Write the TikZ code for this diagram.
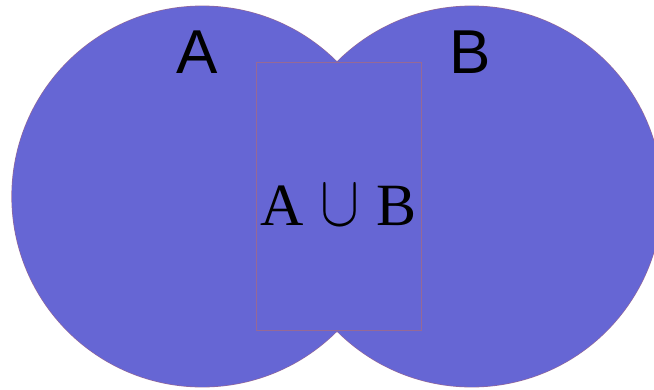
\documentclass[tikz,border=0pt]{standalone}
\usepackage{fontspec}
\usepackage{amsmath}
\usepackage{graphicx}
\usepackage{tikz}
\setmainfont{Liberation Serif}
\newfontfamily\labelfont{Liberation Sans}
\definecolor{setblue}{RGB}{102,102,212}
\definecolor{setedge}{RGB}{150,105,150}
\tikzset{node distance=2.0cm, auto}
\tikzset{
  setrim/.style={draw=setedge, line width=1.2pt},
  setname/.style={font=\labelfont\fontsize{62}{62}\selectfont, inner sep=0pt, anchor=base},
  unionbox/.style={draw=setedge, line width=0.8pt, minimum width=165pt, minimum height=268.5pt, inner sep=0pt},
  uniontext/.style={font=\fontsize{60}{60}\selectfont, inner sep=0pt, anchor=base}
}
\newcommand{\bigunion}{\resizebox{39pt}{40pt}{$\cup$}}

\begin{document}
\begin{tikzpicture}[x=1pt, y=-1pt]
\useasboundingbox (0,0) rectangle (654,389);
% rims first, then one fill over both
\draw[setrim] (202.3,196.5) circle (190.3pt) (471.7,196.5) circle (190.3pt);
\fill[setblue] (202.3,196.5) circle (190.3pt) (471.7,196.5) circle (190.3pt);
\node[setname] (labA) at (197.5,73.3) {A};
\node[setname] (labB) at (469.7,73.3) {B};
\node[unionbox] (union) at (339.2,196.5) {};
\node[uniontext] (unionText) at (338.5,225) {A\hspace{16pt}\bigunion\hspace{17pt}B};
\end{tikzpicture}
\end{document}
